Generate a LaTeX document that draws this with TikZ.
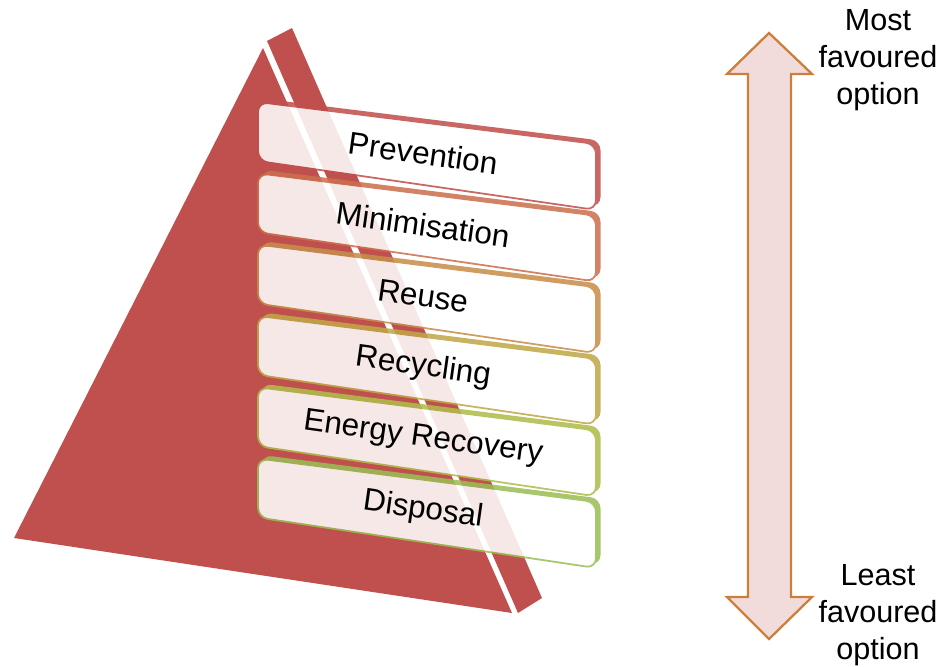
\documentclass[tikz,border=0pt]{standalone}
\usepackage{fontspec}
\setmainfont{Liberation Sans}
\definecolor{pyrred}{HTML}{C0504D}
\definecolor{lay0}{HTML}{C0504D}
\definecolor{lay1}{HTML}{CD704E}
\definecolor{lay2}{HTML}{C88E4B}
\definecolor{lay3}{HTML}{C0A848}
\definecolor{lay4}{HTML}{AFBC4B}
\definecolor{lay5}{HTML}{9BBE55}
\definecolor{arrline}{RGB}{205,125,60}
\definecolor{arrfill}{HTML}{F2DCDB}
\newcommand{\labfont}{\fontsize{8.7}{10.6}\selectfont}
\newcommand{\layfont}{\fontsize{8.95}{10.6}\selectfont}
\begin{document}
\begin{tikzpicture}[x=0.1mm,y=-0.1mm]
  \useasboundingbox (0,0) rectangle (941,667);
  % pyramid
  \fill[pyrred] (263,48) -- (512,613) -- (14,538) -- cycle;
  \fill[pyrred] (267,41) -- (292,28) -- (542,598) -- (518,613) -- cycle;

  % the six layers
  \foreach \i/\txt/\col in {0/Prevention/lay0,1/Minimisation/lay1,2/Reuse/lay2,
      3/Recycling/lay3,4/Energy Recovery/lay4,5/Disposal/lay5}{
    \pgfmathsetmacro\yl{102+71.3*\i}
    \pgfmathsetmacro\yr{144+71.6*\i}
    \begin{scope}[transparency group,opacity=0.87]
      \fill[\col,rounded corners=2.8pt]
        (262,\yl-3.5) -- (600.5,\yr-3.5) -- (600.5,\yr+63) -- (262,\yl+56) -- cycle;
      \filldraw[fill=white,draw=\col,line width=0.5pt,rounded corners=2.8pt]
        (258,\yl) -- (596,\yr) -- (596,\yr+66) -- (258,\yl+59) -- cycle;
    \end{scope}
    \node[rotate=-8,font=\layfont] (lay\i) at (423,{(\yl+\yr)/2+30}) {\txt};
  }

  % preference arrow
  \filldraw[fill=arrfill,draw=arrline,line width=0.65pt]
    (769,33) -- (812,74) -- (791,74) -- (791,597) -- (812,597) -- (769,639)
    -- (727,597) -- (748,597) -- (748,74) -- (727,74) -- cycle;
  \node[align=center,font=\labfont] (most) at (878,60) {Most\\favoured\\option};
  \node[align=center,font=\labfont] (least) at (878,615) {Least\\favoured\\option};
\end{tikzpicture}
\end{document}
